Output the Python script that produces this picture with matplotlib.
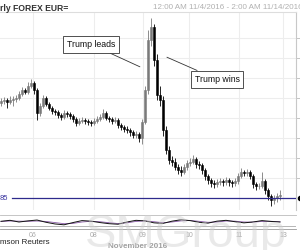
import matplotlib
matplotlib.use("Agg")
import matplotlib.pyplot as plt
from matplotlib.patches import Rectangle
import numpy as np

# ---- data (prices in pips, i.e. price * 10000) ----
closes = [11092, 11095, 11090, 11095, 11097, 11100, 11110, 11120, 11115, 11130,
          11137, 11120, 11062, 11080, 11100, 11085, 11075, 11067, 11065, 11057,
          11052, 11062, 11060, 11055, 11047, 11037, 11042, 11045, 11042, 11040,
          11037, 11042, 11047, 11052, 11062, 11050, 11047, 11042, 11045, 11032,
          11027, 11022, 11020, 11015, 11007, 11010, 11000, 11040, 11120, 11245,
          11277, 11195, 11107, 11095, 11020, 10970, 10945, 10940, 10927, 10920,
          10915, 10927, 10937, 10940, 10947, 10935, 10932, 10920, 10905, 10895,
          10887, 10885, 10890, 10892, 10890, 10895, 10890, 10887, 10892, 10905,
          10915, 10912, 10915, 10905, 10885, 10880, 10880, 10892, 10870, 10855,
          10845, 10850, 10855, 10857]
highs = [11100, 11102, 11100, 11105, 11105, 11107, 11117, 11127, 11125, 11140,
         11147, 11142, 11125, 11087, 11107, 11105, 11090, 11080, 11072, 11070,
         11062, 11070, 11067, 11065, 11060, 11052, 11050, 11052, 11050, 11048,
         11045, 11050, 11055, 11060, 11072, 11067, 11055, 11052, 11052, 11050,
         11037, 11032, 11030, 11025, 11020, 11017, 11015, 11047, 11130, 11270,
         11300, 11285, 11210, 11130, 11105, 11030, 10980, 10955, 10950, 10935,
         10930, 10935, 10945, 10950, 10957, 10952, 10942, 10937, 10925, 10910,
         10900, 10895, 10897, 10900, 10897, 10902, 10900, 10895, 10900, 10912,
         10925, 10920, 10922, 10920, 10910, 10890, 10887, 10915, 10897, 10875,
         10860, 10857, 10862, 10870]
lows = [11080, 11085, 11075, 11085, 11080, 11090, 11095, 11105, 11110, 11110,
        11125, 11110, 11045, 11055, 11075, 11080, 11070, 11060, 11058, 11050,
        11045, 11048, 11052, 11048, 11040, 11030, 11032, 11037, 11035, 11032,
        11030, 11032, 11037, 11042, 11047, 11045, 11040, 11035, 11037, 11025,
        11020, 11015, 11012, 11005, 11000, 11000, 10990, 10985, 11035, 11110,
        11230, 11180, 11095, 11080, 11005, 10960, 10935, 10930, 10920, 10910,
        10905, 10910, 10920, 10930, 10935, 10925, 10922, 10910, 10895, 10885,
        10877, 10875, 10877, 10882, 10880, 10882, 10880, 10877, 10880, 10885,
        10900, 10905, 10905, 10897, 10875, 10870, 10872, 10875, 10860, 10845,
        10830, 10835, 10840, 10845]
first_open = 11088
ref_level = 10850  # horizontal reference line (1.0850)

tick_labels = ["06", "08", "09", "10", "11", "13"]
tick_pos = [10.7, 31.0, 47.3, 62.7, 79.3, 94.0]

osc_k = [55, 62, 50, 58, 64, 48, 36, 30, 46, 60, 56, 46, 38, 34, 50, 62,
         58, 44, 40, 56, 66, 60, 48, 42, 56, 62, 52, 44, 50, 60, 54, 50]
osc_d = [54, 57, 56, 55, 57, 54, 46, 38, 40, 50, 55, 52, 45, 39, 44, 54,
         58, 52, 45, 50, 58, 61, 55, 48, 50, 57, 56, 50, 49, 54, 55, 52]

# ---- figure ----
fig = plt.figure(figsize=(3.0, 2.5), dpi=100)
plt.rcParams['font.family'] = ['Liberation Sans', 'DejaVu Sans']

ax = fig.add_axes([0.0, 0.16, 0.9867, 0.792])
ax.set_facecolor("white")

n = len(closes)
opens = [first_open] + closes[:-1]
P = 10000.0
for i in range(n):
    o, c, h, l = opens[i] / P, closes[i] / P, highs[i] / P, lows[i] / P
    up = c >= o
    col = "#7a7a7a" if up else "#000000"
    ax.vlines(i, l, h, color=col, linewidth=0.6, zorder=3)
    bottom = min(o, c)
    height = max(abs(c - o), 0.0001)
    ax.add_patch(Rectangle((i - 0.3, bottom), 0.6, height,
                           facecolor=col, edgecolor=col, linewidth=0.4, zorder=4))

ax.set_xlim(-0.33, 98.33)
ax.set_ylim(1.0820, 1.1315)

# grid
ax.set_xticks(tick_pos)
ax.set_xticklabels([])
ax.set_yticks([1.09, 1.095, 1.10, 1.105, 1.11, 1.115, 1.12, 1.125])
ax.set_yticklabels([])
ax.grid(True, color="#ededed", linewidth=0.8, zorder=0)
ax.tick_params(axis="x", length=0)
ax.tick_params(axis="y", which="both", left=False, right=True, length=3,
               color="#bbbbbb", width=0.6)
for s in ["left", "bottom"]:
    ax.spines[s].set_visible(False)
ax.spines["top"].set_color("#dddddd")
ax.spines["top"].set_linewidth(0.8)
ax.spines["right"].set_color("#c8c8c8")
ax.spines["right"].set_linewidth(0.8)

# reference line
ax.axhline(ref_level / P, xmin=0.04, xmax=1.0, color="#2e2a8c", linewidth=0.9, zorder=5)
fig.text(0.0, 0.208, "85", color="#3a35a0", fontsize=5.5, va="center", ha="left")
ax.plot([1.012], [ref_level / P], marker="o", markersize=3, color="black",
        transform=ax.get_yaxis_transform(), clip_on=False)

# annotations
ax.annotate("Trump leads", xy=(46.3, 1.1178), xycoords="data",
            xytext=(30.0, 1.1234), textcoords="data",
            fontsize=6.3, ha="center", va="center", color="#111111",
            bbox=dict(boxstyle="square,pad=0.45", fc="white", ec="#333333", lw=0.6),
            arrowprops=dict(arrowstyle="-", color="#333333", lw=0.6,
                            shrinkA=0, shrinkB=0),
            zorder=6)
ax.annotate("Trump wins", xy=(55.3, 1.1202), xycoords="data",
            xytext=(72.0, 1.1147), textcoords="data",
            fontsize=6.3, ha="center", va="center", color="#111111",
            bbox=dict(boxstyle="square,pad=0.45", fc="white", ec="#333333", lw=0.6),
            arrowprops=dict(arrowstyle="-", color="#333333", lw=0.6,
                            shrinkA=0, shrinkB=0),
            zorder=6)

# indicator panel
ax2 = fig.add_axes([0.0, 0.084, 0.9867, 0.056])
xo = np.linspace(0, n - 1, len(osc_k))
ax2.plot(xo, osc_d, color="#8a5aa8", linewidth=0.6)
ax2.plot(xo, osc_k, color="#111111", linewidth=0.7)
ax2.set_xlim(-0.33, 98.33)
ax2.set_ylim(0, 100)
ax2.axhline(20, color="#aaaaaa", linewidth=0.6)
ax2.set_xticks([])
ax2.set_yticks([])
for s in ["left", "right"]:
    ax2.spines[s].set_visible(False)
ax2.spines["top"].set_color("#bbbbbb")
ax2.spines["bottom"].set_color("#999999")
ax2.spines["top"].set_linewidth(0.6)
ax2.spines["bottom"].set_linewidth(0.6)

# x tick labels under the indicator
for p, lab in zip(tick_pos, tick_labels):
    xf = (p + 0.33) / 98.66 * 0.9867
    fig.text(xf, 0.058, lab, color="#a8a8a8", fontsize=5.0, ha="center", va="center")

# header / footer texts
fig.text(0.0, 0.985, "rly FOREX EUR=", color="#333333", fontsize=6.2,
         fontweight="bold", ha="left", va="top")
fig.text(0.51, 0.985, "12:00 AM 11/4/2016 - 2:00 AM 11/14/2016", color="#b0b0b0",
         fontsize=5.8, ha="left", va="top")
fig.text(0.0, 0.028, "mson Reuters", color="#222222", fontsize=5.8, ha="left", va="center")
fig.text(0.36, 0.016, "November 2016", color="#a0a0a0", fontsize=5.8,
         fontweight="bold", ha="left", va="center")

# watermark
fig.text(0.62, 0.06, "SMGroup", color="#d0d0d0", alpha=0.45, fontsize=34,
         ha="center", va="center", zorder=10)

fig.savefig("out.png", dpi=100, facecolor="white")
